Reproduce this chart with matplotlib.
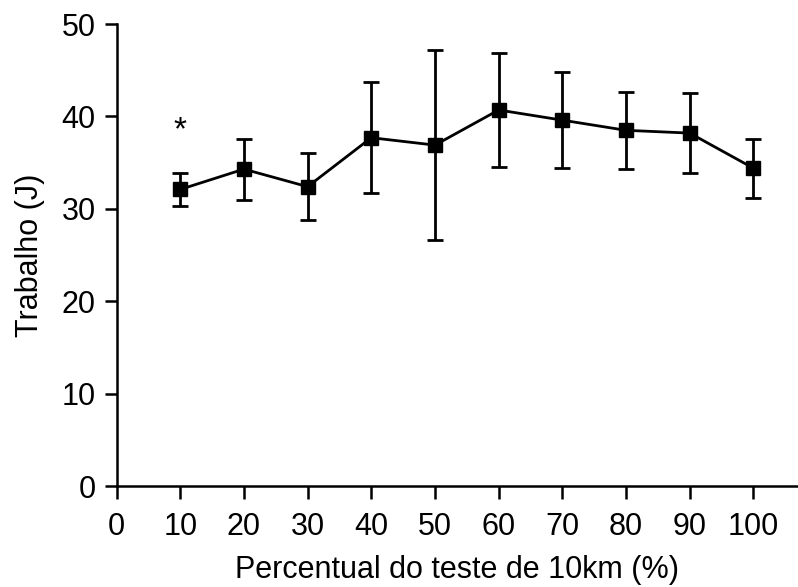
import matplotlib.pyplot as plt

plt.rcParams['font.family'] = ['Liberation Sans', 'DejaVu Sans']

# Percentual do teste (%) e trabalho médio (J) com desvio padrão
percentual = [10, 20, 30, 40, 50, 60, 70, 80, 90, 100]
trabalho = [32.1, 34.3, 32.4, 37.7, 36.9, 40.7, 39.6, 38.5, 38.2, 34.4]
desvio = [1.8, 3.3, 3.6, 6.0, 10.3, 6.2, 5.2, 4.2, 4.3, 3.2]

# posição do asterisco (diferença significativa aos 10%)
sig_x = 10
sig_y = 38.4

fig = plt.figure(figsize=(7.98, 5.87), dpi=100)
ax = fig.add_axes([0.146, 0.172, 0.854, 0.787])

ax.errorbar(percentual, trabalho, yerr=desvio, color='black', linewidth=2.0,
            elinewidth=2.0, capsize=6, capthick=2.0, marker='s', markersize=10.5,
            markerfacecolor='black', markeredgecolor='black', clip_on=False)
ax.text(sig_x, sig_y, '*', ha='center', va='center', fontsize=24)

ax.set_xlim(0, 107)
ax.set_ylim(0, 50)
ax.set_xticks(range(0, 101, 10))
ax.set_yticks(range(0, 51, 10))

for side in ['top', 'right']:
    ax.spines[side].set_visible(False)
for side in ['left', 'bottom']:
    ax.spines[side].set_linewidth(1.8)

ax.tick_params(axis='both', direction='out', length=9, width=1.8,
               labelsize=22)
ax.tick_params(axis='y', pad=6)
ax.tick_params(axis='x', pad=10)

ax.set_xlabel('Percentual do teste de 10km (%)', fontsize=22, labelpad=9)
ax.set_ylabel('Trabalho (J)', fontsize=22, labelpad=12)

fig.savefig('out.png', dpi=100)
